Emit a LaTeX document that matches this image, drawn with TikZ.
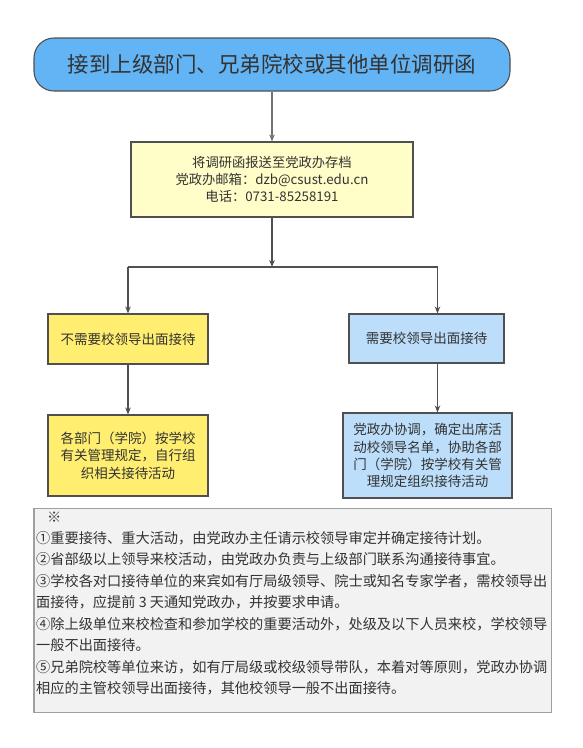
\documentclass[tikz,border=0pt]{standalone}
\usepackage{fontspec}
\setmainfont{Noto Sans CJK SC}
\usetikzlibrary{arrows.meta}
\definecolor{topblue}{HTML}{63B4F5}
\definecolor{paleyellow}{HTML}{FFFDC8}
\definecolor{boxyellow}{HTML}{FFEE70}
\definecolor{boxblue}{HTML}{BCDEFA}
\definecolor{notegray}{HTML}{F2F2F2}
\definecolor{edgegray}{HTML}{505050}
\definecolor{txt}{HTML}{333333}
\tikzset{
  base/.style={draw=edgegray, line width=1.1pt, inner sep=0pt, align=center, text=txt},
  topbox/.style={base, fill=topblue, rounded corners=20pt, font=\fontsize{21.5}{24}\selectfont},
  midbox/.style={base, fill=paleyellow, font=\fontsize{13.3}{16.6}\selectfont},
  ybox/.style={base, fill=boxyellow, font=\fontsize{13.5}{17.5}\selectfont},
  bbox/.style={base, fill=boxblue, font=\fontsize{13.5}{17.2}\selectfont},
  arr/.style={draw=edgegray, line width=1.1pt, -{Stealth[length=7pt,width=5.5pt]}},
  conn/.style={draw=edgegray, line width=1.1pt}
}
\begin{document}
\begin{tikzpicture}[x=1pt,y=-1pt]
\useasboundingbox (0,0) rectangle (582,748);
\fill[white] (0,0) rectangle (582,748);
\node[topbox, minimum width=476pt, minimum height=53pt] (top) at (272,64.5) {接到上级部门、兄弟院校或其他单位调研函};
\node[midbox, minimum width=282pt, minimum height=75pt] (mid) at (272,179.5) {将调研函报送至党政办存档\\党政办邮箱：dzb@csust.edu.cn\\电话：0731-85258191};
\node[ybox, minimum width=160pt, minimum height=50pt] (l1) at (128,339) {不需要校领导出面接待};
\node[bbox, minimum width=155pt, minimum height=49pt] (r1) at (426.5,338.5) {需要校领导出面接待};
\node[ybox, minimum width=160pt, minimum height=81pt] (l2) at (128,455.5) {各部门（学院）按学校\\有关管理规定，自行组\\织相关接待活动};
\node[bbox, minimum width=169pt, minimum height=85pt] (r2) at (427.5,455.5) {党政办协调，确定出席活\\动校领导名单，协助各部\\门（学院）按学校有关管\\理规定组织接待活动};
\coordinate (jm) at (272,267);
\coordinate (jl) at (128,267);
\coordinate (jr) at (437.5,267);
\draw[arr, draw=gray!90!black, line width=1.6pt] (top) -- (mid);
\draw[arr] (mid) -- (jm);
\draw[conn] (jl) -- (jr);
\draw[arr] (jl) -- (l1);
\draw[arr] (jr) -- (jr |- r1.north);
\draw[arr] (l1) -- (l2);
\draw[arr] (jr |- r1.south) -- (jr |- r2.north);
\node[draw=gray!75, line width=1.3pt, fill=notegray, minimum width=517.4pt, minimum height=204pt, inner sep=0pt, anchor=north west] (note) at (33.3,507.7) {};
\node[anchor=north west, inner sep=0pt, align=left, text=txt, font=\fontsize{14.2}{21.5}\selectfont] (notetext) at (36,512) {\hspace{11pt}※\\[-1pt]①重要接待、重大活动，由党政办主任请示校领导审定并确定接待计划。\\②省部级以上领导来校活动，由党政办负责与上级部门联系沟通接待事宜。\\③学校各对口接待单位的来宾如有厅局级领导、院士或知名专家学者，需校领导出\\面接待，应提前 3 天通知党政办，并按要求申请。\\④除上级单位来校检查和参加学校的重要活动外，处级及以下人员来校，学校领导\\一般不出面接待。\\⑤兄弟院校等单位来访，如有厅局级或校级领导带队，本着对等原则，党政办协调\\相应的主管校领导出面接待，其他校领导一般不出面接待。};
\end{tikzpicture}
\end{document}
